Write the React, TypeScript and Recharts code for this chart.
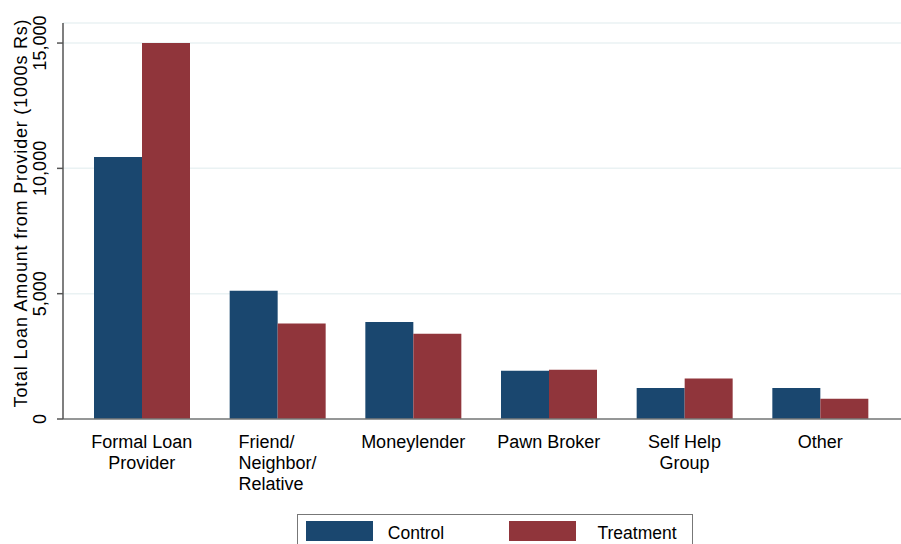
import React from 'react';
import { BarChart, Bar, XAxis, YAxis, CartesianGrid, Legend } from 'recharts';

const categories = [
  'Formal Loan\nProvider',
  'Friend/\nNeighbor/\nRelative',
  'Moneylender',
  'Pawn Broker',
  'Self Help\nGroup',
  'Other',
];
const controlValues = [10450, 5120, 3870, 1925, 1235, 1235];
const treatmentValues = [15000, 3810, 3400, 1965, 1620, 810];
const yTicks = [0, 5000, 10000, 15000];
const seriesNames = ['Control', 'Treatment'];
const yTitle = 'Total Loan Amount from Provider (1000s Rs)';

const data = categories.map((c, i) => ({
  category: c,
  control: controlValues[i],
  treatment: treatmentValues[i],
}));

const FONT = '"Liberation Sans", Arial, Helvetica, sans-serif';
const NAVY = '#1a476f';
const MAROON = '#90353b';

const fmt = (v: number) => v.toLocaleString('en-US');

function XTick(props: any) {
  const { x, y, payload } = props;
  const lines = String(payload.value).split('\n');
  const leftAligned = lines.length > 2;
  const base = y + 21;
  return (
    <g>
      {lines.map((ln, i) => (
        <text
          key={i}
          x={leftAligned ? x - 39 : x}
          y={base + i * 21}
          textAnchor={leftAligned ? 'start' : 'middle'}
          fontFamily={FONT}
          fontSize={18}
          fill="#000"
        >
          {ln}
        </text>
      ))}
    </g>
  );
}

function YTick(props: any) {
  const { x, y, payload } = props;
  const bx = x - 9;
  return (
    <text
      x={bx}
      y={y}
      transform={`rotate(-90 ${bx} ${y})`}
      textAnchor="middle"
      fontFamily={FONT}
      fontSize={18}
      fill="#000"
    >
      {fmt(payload.value)}
    </text>
  );
}

function YTitle(props: any) {
  const { viewBox } = props;
  const cx = 27;
  const cy = viewBox.y + viewBox.height / 2 - 8;
  return (
    <text
      x={cx}
      y={cy}
      transform={`rotate(-90 ${cx} ${cy})`}
      textAnchor="middle"
      fontFamily={FONT}
      fontSize={18}
      letterSpacing={0.8}
      fill="#000"
    >
      {yTitle}
    </text>
  );
}

const swatchLeft = [8, 211];
const textCenter = [118, 339];

function LegendBox(props: any) {
  const payload = props.payload || [];
  return (
    <div
      style={{
        position: 'relative',
        width: 396,
        height: 40,
        boxSizing: 'border-box',
        border: '1.5px solid #777',
        background: '#fff',
        fontFamily: FONT,
        fontSize: 17.5,
        color: '#000',
      }}
    >
      {payload.map((p: any, i: number) => (
        <React.Fragment key={i}>
          <div
            style={{
              position: 'absolute',
              left: swatchLeft[i],
              top: 6,
              width: 67,
              height: 20,
              background: p.color,
            }}
          />
          <div
            style={{
              position: 'absolute',
              left: textCenter[i] - 60,
              width: 120,
              top: 8,
              height: 20,
              lineHeight: '20px',
              textAlign: 'center',
              whiteSpace: 'nowrap',
            }}
          >
            {p.value}
          </div>
        </React.Fragment>
      ))}
    </div>
  );
}

export default function App() {
  return (
    <div style={{ position: 'absolute', left: 0, top: 0, width: 901, height: 544, background: '#fff' }}>
      <BarChart
        width={901}
        height={544}
        data={data}
        margin={{ top: 23, right: 0, left: 0, bottom: 25 }}
        barGap={0}
        barSize={48}
      >
        <CartesianGrid vertical={false} stroke="#eaf2f3" strokeWidth={1.5} />
        <XAxis
          dataKey="category"
          interval={0}
          height={100}
          tickLine={false}
          axisLine={{ stroke: '#777', strokeWidth: 1.5 }}
          tick={<XTick />}
          padding={{ left: 11, right: 13 }}
        />
        <YAxis
          width={63}
          domain={[0, 15800]}
          ticks={yTicks}
          interval={0}
          axisLine={{ stroke: '#555', strokeWidth: 1.5 }}
          tickLine={{ stroke: '#555', strokeWidth: 1.5 }}
          tickSize={6}
          tick={<YTick />}
          label={<YTitle />}
        />
        <Legend
          layout="horizontal"
          verticalAlign="middle"
          align="center"
          wrapperStyle={{ top: 514, left: 297, width: 396, height: 40 }}
          content={<LegendBox />}
        />
        <Bar dataKey="control" name={seriesNames[0]} fill={NAVY} isAnimationActive={false} />
        <Bar dataKey="treatment" name={seriesNames[1]} fill={MAROON} isAnimationActive={false} />
      </BarChart>
    </div>
  );
}
